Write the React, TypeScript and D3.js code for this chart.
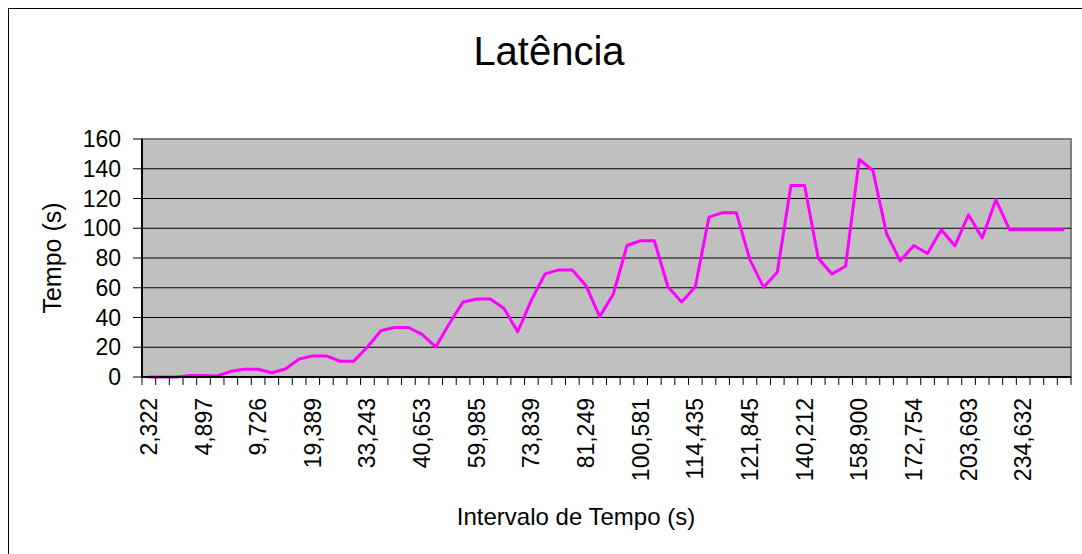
import React from "react";
import * as d3 from "d3";

const title = "Latência";
const yAxisTitle = "Tempo (s)";
const xAxisTitle = "Intervalo de Tempo (s)";

// tick labels shown every 4th category (starting at the first)
const xTickLabels = [
  "2,322", "4,897", "9,726", "19,389", "33,243", "40,653", "59,985", "73,839", "81,249",
  "100,581", "114,435", "121,845", "140,212", "158,900", "172,754", "203,693", "234,632",
];
const labelStep = 4;

const latency = [
  0, 0, 0, 1, 1, 0.7, 3.8, 5.2, 5.2, 2.9,
  5.4, 12.1, 14.2, 14.2, 10.6, 10.6, 20.2, 31.3, 33.3, 33.3,
  28.6, 20.2, 36, 50.4, 52.4, 52.4, 46.1, 30.4, 51.7, 69.3,
  72, 72, 61.4, 40.5, 55.8, 88.4, 91.6, 91.6, 60.7, 50.4,
  60.7, 107.5, 110.5, 110.5, 78.7, 60.3, 70.4, 128.7, 128.7, 79.9,
  69.3, 74.5, 146.2, 138.8, 96.3, 78.1, 88.4, 83, 99, 88.2,
  109.1, 93.4, 119.2, 99, 99, 99, 99, 99,
];

const yTicks = [0, 20, 40, 60, 80, 100, 120, 140, 160];

const W = 1082;
const H = 554;
const left = 142;
const right = 1071;
const top = 139;
const bottom = 377;
const FONT = "'Liberation Sans', Arial, sans-serif";

export default function App() {
  const idx = latency.map((_, i) => i);
  const x = d3.scaleBand<number>().domain(idx).range([left, right]).padding(0);
  const y = d3.scaleLinear().domain([0, 160]).range([bottom, top]);
  const bw = x.bandwidth();
  const cx = (i: number) => (x(i) as number) + bw / 2;

  const line = d3
    .line<number>()
    .x((_, i) => cx(i))
    .y((d) => y(d));

  const boundaries = d3.range(latency.length + 1).map((i) => left + i * bw);

  return (
    <svg
      width={W}
      height={H}
      style={{ position: "absolute", left: 0, top: 0, background: "#fff" }}
      fontFamily={FONT}
    >
      <rect x={8.5} y={8.5} width={1200} height={700} fill="#fff" stroke="#000" strokeWidth={1} />
      <text x={549} y={65} textAnchor="middle" fontSize={40} fill="#000">
        {title}
      </text>

      <rect x={left} y={top} width={right - left} height={bottom - top} fill="#C0C0C0" stroke="#808080" strokeWidth={2} />

      {yTicks.slice(1, -1).map((t) => (
        <line key={t} x1={left} x2={right} y1={y(t)} y2={y(t)} stroke="#000" strokeWidth={1} />
      ))}

      <path d={line(latency) || ""} fill="none" stroke="#FF00FF" strokeWidth={3} strokeLinejoin="round" />

      {/* axes */}
      <line x1={left} x2={left} y1={top} y2={bottom} stroke="#000" strokeWidth={2} />
      <line x1={left} x2={right} y1={bottom} y2={bottom} stroke="#000" strokeWidth={2} />

      {yTicks.map((t) => (
        <g key={t}>
          <line x1={left - 9} x2={left} y1={y(t)} y2={y(t)} stroke="#000" strokeWidth={1} />
          <text x={121} y={y(t)} dy="0.35em" textAnchor="end" fontSize={23} fill="#000">
            {t}
          </text>
        </g>
      ))}

      {boundaries.map((bx, i) => (
        <line key={i} x1={bx} x2={bx} y1={bottom} y2={bottom + 8} stroke="#000" strokeWidth={1} />
      ))}

      {xTickLabels.map((lab, k) => {
        const i = k * labelStep;
        return (
          <text
            key={lab}
            transform={`translate(${cx(i)},${398}) rotate(-90)`}
            textAnchor="end"
            dy="0.35em"
            fontSize={23}
            fill="#000"
          >
            {lab}
          </text>
        );
      })}

      <text
        transform={`translate(${61},${(top + bottom) / 2}) rotate(-90)`}
        textAnchor="middle"
        fontSize={25}
        fill="#000"
      >
        {yAxisTitle}
      </text>

      <text x={576} y={525} textAnchor="middle" fontSize={24} fill="#000">
        {xAxisTitle}
      </text>
    </svg>
  );
}
